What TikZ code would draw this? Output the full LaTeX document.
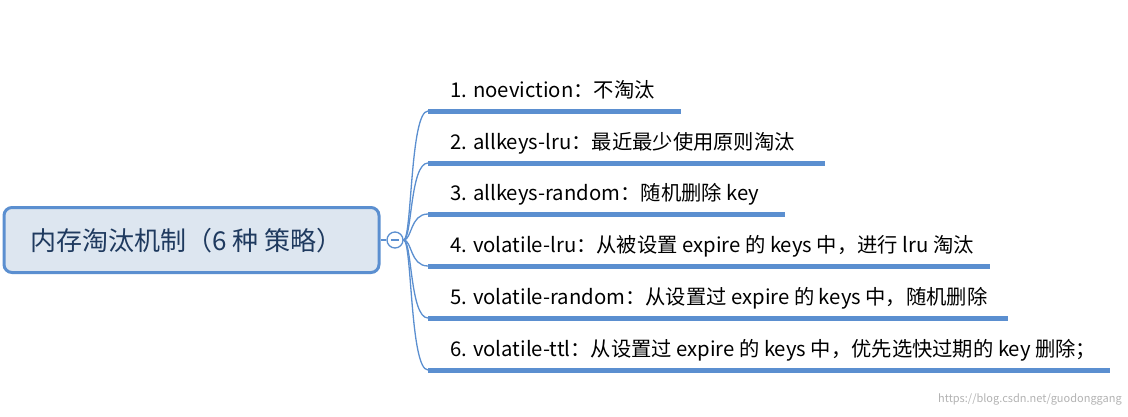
\documentclass[tikz,border=0pt]{standalone}
\usepackage{fontspec}
\setmainfont{Noto Sans CJK SC}
\definecolor{lb}{HTML}{5B8FD0}
\definecolor{rootfill}{HTML}{DDE6F0}
\definecolor{navy}{HTML}{1F3A5F}
\tikzset{leaf/.style={anchor=base west,font=\fontsize{20.3pt}{22pt}\selectfont,inner sep=0pt},
 uline/.style={line width=5pt,lb},
 br/.style={lb,line width=1.3pt}}
\begin{document}
\begin{tikzpicture}[x=1pt,y=-1pt]
\useasboundingbox (0,0) rectangle (1128,416);
\node[draw=lb,line width=3pt,fill=rootfill,rounded corners=8pt,minimum width=375pt,minimum height=65pt,inner sep=0pt] (root) at (191.5,240) {};
\node[anchor=west,font=\fontsize{26pt}{28pt}\selectfont,text=navy,inner sep=0pt] (rt) at (30,241) {内存淘汰机制（6 种 策略）};
\node[circle,draw=lb,line width=1.3pt,fill=white,minimum size=16pt,inner sep=0pt] (c) at (395,240) {};
\draw[lb,line width=1.5pt] (391,240) -- (399,240);
\draw[br] (root.east) -- (c.west);
\foreach \i/\y/\e/\t in {1/111/681/{1. noeviction：不淘汰},
 2/163/825/{2. allkeys-lru：最近最少使用原则淘汰},
 3/214/785/{3. allkeys-random：随机删除 key},
 4/266/990/{4. volatile-lru：从被设置 expire 的 keys 中，进行 lru 淘汰},
 5/318/1008/{5. volatile-random：从设置过 expire 的 keys 中，随机删除},
 6/370/1110/{6. volatile-ttl：从设置过 expire 的 keys 中，优先选快过期的 key 删除；}}{
 \coordinate (s\i) at (428,\y);
 \coordinate (e\i) at (\e,\y);
 \draw[uline] (s\i) -- (e\i);
 \draw[br] (c.east) .. controls (412,240) and (410,\y) .. (s\i);
 \node[leaf] (t\i) at (450,\y-14) {\t};
}
\node[anchor=base east,text=black!30,font=\fontsize{11pt}{12pt}\selectfont,inner sep=0pt] (wm) at (1122,402) {https://blog.csdn.net/guodonggang};
\end{tikzpicture}
\end{document}
